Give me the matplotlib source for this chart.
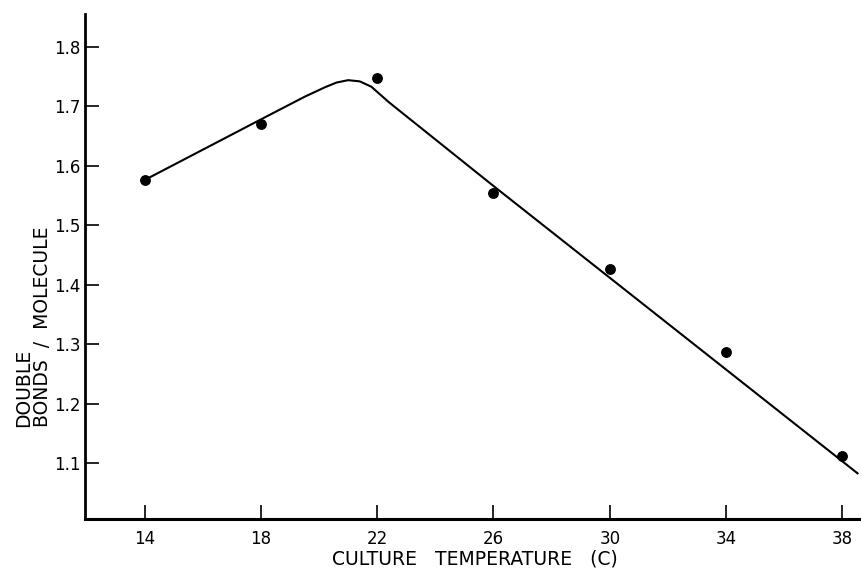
import matplotlib
matplotlib.use('Agg')
import matplotlib.pyplot as plt

# ---------- data ----------
temp = [14, 18, 22, 26, 30, 34, 38]
bonds = [1.576, 1.670, 1.748, 1.554, 1.427, 1.287, 1.112]

# hand-drawn fit line (vertices)
fit_x = [14.0, 18.0, 19.5, 20.2, 20.6, 21.0, 21.4, 21.8, 22.4, 26.0, 38.55]
fit_y = [1.576, 1.678, 1.716, 1.732, 1.740, 1.744, 1.742, 1.733, 1.707, 1.566, 1.0815]

xticks = [14, 18, 22, 26, 30, 34, 38]
yticks = [1.1, 1.2, 1.3, 1.4, 1.5, 1.6, 1.7, 1.8]

plt.rcParams['font.family'] = ['DejaVu Sans']

fig = plt.figure(figsize=(8.61, 5.72), dpi=100)
ax = fig.add_axes([0.0987, 0.0927, 0.905, 0.883])

ax.plot(fit_x, fit_y, color='black', lw=1.5, solid_capstyle='butt')
ax.plot(temp, bonds, 'o', color='black', markersize=6.8)

ax.set_xlim(11.95, 38.75)
ax.set_ylim(1.0058, 1.8555)

ax.set_xticks(xticks)
ax.set_xticklabels([str(t) for t in xticks])
ax.set_yticks(yticks)
ax.set_yticklabels(['%.1f' % v for v in yticks])

ax.spines['top'].set_visible(False)
ax.spines['right'].set_visible(False)
ax.spines['left'].set_linewidth(2.0)
ax.spines['bottom'].set_linewidth(2.2)

ax.tick_params(axis='both', direction='in', length=10, width=1.2, labelsize=12)
ax.tick_params(axis='y', pad=3)
ax.tick_params(axis='x', pad=8)

ax.set_xlabel('CULTURE   TEMPERATURE   (C)', fontsize=13.5, labelpad=1)

fig.text(0.038, 1 - 427 / 572.0, 'DOUBLE\nBONDS  /  MOLECULE', rotation=90,
         ha='center', va='bottom', multialignment='left', fontsize=13.5,
         linespacing=1.0)

fig.savefig('out.png', dpi=100, facecolor='w')
